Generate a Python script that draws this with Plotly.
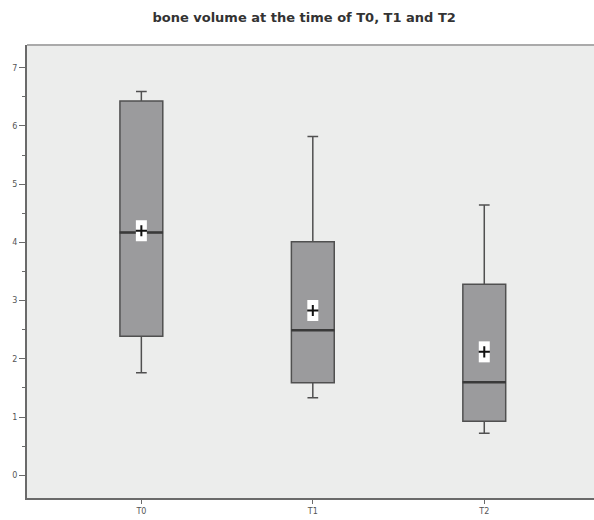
import plotly.graph_objects as go

categories = ["T0", "T1", "T2"]
q1 = [2.39, 1.59, 0.93]
median = [4.17, 2.49, 1.60]
q3 = [6.43, 4.01, 3.28]
lower = [1.76, 1.33, 0.72]
upper = [6.59, 5.82, 4.64]
means = [4.20, 2.83, 2.12]
y_ticks = [0, 1, 2, 3, 4, 5, 6, 7]

fig = go.Figure()
fig.add_trace(go.Box(
    x=categories, q1=q1, median=median, q3=q3,
    lowerfence=lower, upperfence=upper,
    boxpoints=False, width=0.25, whiskerwidth=0.25,
    fillcolor="#9b9b9d", line=dict(color="#505050", width=1.5),
    showlegend=False, hoverinfo="skip",
))
# emphasised median line
fig.add_trace(go.Scatter(
    x=categories, y=median, mode="markers",
    marker=dict(symbol="line-ew", size=31, line=dict(width=2.5, color="#3a3a3a")),
    showlegend=False, hoverinfo="skip",
))
# white tall rectangle behind the mean cross
fig.add_trace(go.Scatter(
    x=categories, y=means, mode="markers",
    marker=dict(symbol="line-ns", size=15, line=dict(width=11, color="white")),
    showlegend=False, hoverinfo="skip",
))
fig.add_trace(go.Scatter(
    x=categories, y=means, mode="markers",
    marker=dict(symbol="cross-thin", size=8, line=dict(width=2, color="#111111")),
    showlegend=False, hoverinfo="skip",
))

fig.update_layout(
    width=594, height=520,
    margin=dict(l=27, r=0, t=45, b=22),
    paper_bgcolor="white", plot_bgcolor="#ecedec",
    font=dict(family="DejaVu Sans, sans-serif", color="#555555", size=8),
    title=dict(text="<b>bone volume at the time of T0, T1 and T2</b>",
               x=0.512, xref="container", xanchor="center",
               y=1 - 17 / 520, yref="container", yanchor="middle",
               font=dict(size=13, color="#333333", family="DejaVu Sans, sans-serif")),
)

fig.update_xaxes(
    type="category", range=[-0.667, 2.64],
    showgrid=False, zeroline=False,
    showline=True, linecolor="#6a6a6a", linewidth=2, mirror=False,
    ticks="outside", ticklen=4, tickcolor="#6a6a6a", tickwidth=1,
    tickfont=dict(size=8, color="#555555"),
)
fig.update_yaxes(
    range=[-0.39, 7.39], tickvals=y_ticks,
    showgrid=False, zeroline=False,
    showline=True, linecolor="#6a6a6a", linewidth=2,
    ticks="outside", ticklen=6, tickcolor="#6a6a6a", tickwidth=1,
    minor=dict(ticks="outside", ticklen=3, dtick=0.5, tickcolor="#6a6a6a", tickwidth=1, showgrid=False),
    tickfont=dict(size=8, color="#555555"),
)
fig.add_shape(type="line", xref="paper", yref="paper", x0=0, x1=1, y0=1, y1=1,
              line=dict(color="#aaaaaa", width=2))

fig.write_html("out.html", config={"displayModeBar": False},
               post_script="document.body.style.margin='0';document.body.style.overflow='hidden';")
